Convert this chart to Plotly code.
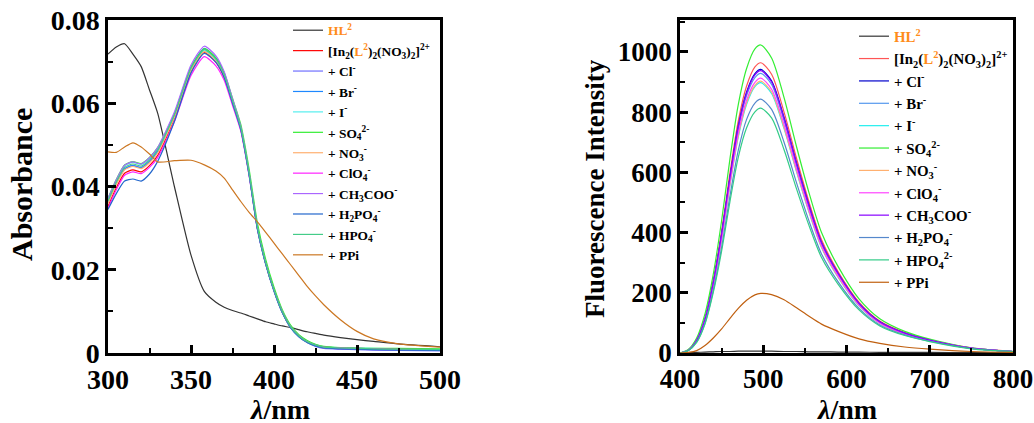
import plotly.graph_objects as go

# ---------------- data: absorbance (left) ----------------
abs_wl = [300, 305, 310, 315, 320, 325, 330, 340, 350, 358, 365, 370, 375, 380, 385,
          390, 395, 400, 405, 410, 415, 420, 425, 430, 440, 450, 460, 475, 500]

abs_HL2 = [.0718, .0735, .0743, .0718, .0688, .0632, .0575, .0400, .0235, .0148, .0122, .0110,
           .0102, .0096, .0089, .0082, .0075, .0070, .0065, .0061, .0056, .0051, .0047, .0043,
           .0037, .0032, .0028, .0022, .0015]
abs_In = [.0352, .0397, .0432, .0440, .0435, .0450, .0475, .0564, .0677, .0722, .0699, .0662, .0602,
          .0538, .0430, .0300, .0215, .0150, .0098, .0062, .0040, .0026, .0018, .0014, .0012, .0011,
          .0010, .0009, .0008]
abs_Cl = [.0363, .0408, .0443, .0451, .0446, .0461, .0486, .0574, .0687, .0732, .0709, .0672, .0607,
          .0541, .0431, .0301, .0216, .0151, .0098, .0061, .0039, .0025, .0016, .0011, .0009, .0008,
          .0007, .0006, .0005]
abs_Br = [.0362, .0407, .0442, .0450, .0445, .0460, .0485, .0572, .0685, .0730, .0707, .0670, .0606,
          .0540, .0430, .0299, .0214, .0149, .0097, .0061, .0040, .0026, .0018, .0013, .0011, .0010,
          .0010, .0009, .0008]
abs_I = [.0370, .0415, .0450, .0458, .0453, .0467, .0490, .0572, .0681, .0726, .0703, .0666, .0604,
         .0540, .0431, .0302, .0217, .0152, .0100, .0064, .0042, .0028, .0020, .0015, .0013, .0012,
         .0011, .0010, .0009]
abs_SO4 = [.0372, .0417, .0452, .0460, .0455, .0470, .0494, .0575, .0686, .0731, .0709, .0673, .0612,
           .0549, .0442, .0312, .0225, .0158, .0104, .0067, .0044, .0030, .0021, .0016, .0013, .0012,
           .0011, .0011, .0010]
abs_NO3 = [.0360, .0405, .0440, .0448, .0443, .0457, .0481, .0566, .0679, .0724, .0701, .0665, .0603,
           .0539, .0430, .0300, .0215, .0150, .0098, .0062, .0040, .0026, .0018, .0013, .0011, .0010,
           .0009, .0008, .0007]
abs_ClO4 = [.0348, .0392, .0427, .0435, .0431, .0446, .0470, .0556, .0667, .0712, .0690, .0655, .0595,
            .0533, .0426, .0298, .0214, .0150, .0099, .0063, .0041, .0027, .0019, .0014, .0012, .0011,
            .0010, .0009, .0008]
abs_OAc = [.0371, .0416, .0451, .0459, .0454, .0469, .0494, .0579, .0692, .0737, .0714, .0676, .0611,
           .0544, .0433, .0302, .0216, .0150, .0098, .0062, .0040, .0026, .0017, .0012, .0010, .0009,
           .0008, .0007, .0006]
abs_H2PO4 = [.0345, .0383, .0413, .0418, .0413, .0430, .0461, .0556, .0673, .0720, .0698, .0662, .0600,
             .0536, .0427, .0297, .0213, .0149, .0097, .0061, .0039, .0025, .0017, .0012, .0010, .0009,
             .0008, .0007, .0006]
abs_HPO4 = [.0366, .0411, .0446, .0454, .0449, .0464, .0489, .0571, .0684, .0729, .0706, .0669, .0606,
            .0541, .0432, .0302, .0216, .0151, .0099, .0063, .0041, .0027, .0019, .0014, .0012, .0011,
            .0010, .0009, .0008]
abs_PPi = [.0483, .0482, .0495, .0505, .0495, .0478, .0459, .0462, .0463, .0452, .0437, .0420, .0392,
           .0364, .0338, .0315, .0290, .0264, .0238, .0212, .0186, .0160, .0137, .0116, .0080, .0052,
           .0034, .0022, .0014]

# ---------------- data: fluorescence (right) ----------------
fl_wl = [400, 410, 420, 430, 440, 450, 460, 470, 480, 490, 497, 510, 525, 540, 555, 570,
         590, 615, 640, 670, 700, 750, 800]

fl_HL2 = [0, 1, 2, 3, 4, 5, 5, 6, 6, 6, 6, 6, 5, 5, 4, 4, 3, 3, 2, 2, 2, 1, 1]
fl_In = [0, 10, 43, 116, 241, 405, 598, 771, 887, 950, 964, 926, 800, 646, 501, 376, 270, 169, 106, 68, 44, 17, 5]
fl_Cl = [0, 9, 42, 113, 235, 396, 584, 754, 867, 928, 942, 904, 782, 631, 490, 367, 264, 165, 104, 66, 43, 16, 5]
fl_Br = [0, 9, 41, 111, 232, 390, 576, 743, 855, 915, 929, 892, 771, 622, 483, 362, 260, 163, 102, 65, 42, 16, 5]
fl_I = [0, 9, 40, 108, 224, 377, 557, 718, 826, 885, 898, 862, 745, 602, 467, 350, 251, 157, 99, 63, 41, 15, 5]
fl_SO4 = [0, 12, 50, 130, 262, 440, 645, 825, 945, 1010, 1023, 980, 848, 685, 532, 400, 287, 180, 114, 72, 46, 17, 5]
fl_NO3 = [0, 9, 40, 108, 226, 379, 560, 722, 831, 889, 903, 867, 749, 605, 470, 352, 253, 158, 99, 63, 41, 15, 5]
fl_ClO4 = [0, 9, 41, 110, 228, 383, 566, 730, 840, 899, 913, 876, 758, 612, 475, 356, 256, 160, 100, 64, 42, 16, 5]
fl_OAc = [0, 9, 42, 112, 234, 394, 582, 750, 863, 924, 938, 900, 779, 628, 488, 366, 263, 164, 103, 66, 43, 16, 5]
fl_H2PO4 = [0, 8, 36, 99, 208, 351, 521, 673, 776, 830, 843, 809, 700, 565, 438, 329, 236, 148, 93, 60, 39, 15, 5]
fl_HPO4 = [0, 8, 35, 96, 201, 339, 503, 650, 748, 801, 813, 781, 675, 545, 423, 317, 228, 143, 90, 58, 38, 14, 5]
fl_PPi = [0, 2, 8, 25, 50, 80, 115, 148, 175, 193, 198, 194, 177, 150, 122, 96, 72, 47, 32, 20, 13, 5, 2]

# ---------------- labels ----------------
ORANGE = "#ff8c1a"
lab_HL2 = f"<span style='color:{ORANGE}'>HL<sup>2</sup></span>"
lab_In = (f"[In<sub>2</sub>(<span style='color:{ORANGE}'>L<sup>2</sup></span>)<sub>2</sub>"
          "(NO<sub>3</sub>)<sub>2</sub>]<sup>2+</sup>")
left_labels = [lab_HL2, lab_In, "+ Cl<sup>-</sup>", "+ Br<sup>-</sup>", "+ I<sup>-</sup>",
               "+ SO<sub>4</sub><sup>2-</sup>", "+ NO<sub>3</sub><sup>-</sup>",
               "+ ClO<sub>4</sub><sup>-</sup>", "+ CH<sub>3</sub>COO<sup>-</sup>",
               "+ H<sub>2</sub>PO<sub>4</sub><sup>-</sup>", "+ HPO<sub>4</sub><sup>-</sup>", "+ PPi"]
right_labels = left_labels[:10] + ["+ HPO<sub>4</sub><sup>2-</sup>", "+ PPi"]

left_series = [abs_HL2, abs_In, abs_Cl, abs_Br, abs_I, abs_SO4, abs_NO3, abs_ClO4,
               abs_OAc, abs_H2PO4, abs_HPO4, abs_PPi]
right_series = [fl_HL2, fl_In, fl_Cl, fl_Br, fl_I, fl_SO4, fl_NO3, fl_ClO4,
                fl_OAc, fl_H2PO4, fl_HPO4, fl_PPi]

left_colors = ["#333333", "#ff0000", "#7070ff", "#1e88ff", "#55eeee", "#33ee33", "#ffb070",
               "#ff22ff", "#aa66ff", "#2266cc", "#44cc88", "#cc7722"]
right_colors = ["#333333", "#ff5555", "#0000cc", "#5599ee", "#22eeee", "#33ee33", "#ffb070",
                "#ff44ff", "#8800ff", "#5588cc", "#33cc88", "#c06010"]

FONT = "Times New Roman, Liberation Serif, serif"

fig = go.Figure()
for lab, ys, col in zip(left_labels, left_series, left_colors):
    fig.add_trace(go.Scatter(x=abs_wl, y=ys, mode="lines", name=lab,
                             line=dict(color=col, width=1.2, shape="spline", smoothing=0.6),
                             xaxis="x", yaxis="y", legend="legend"))
for lab, ys, col in zip(right_labels, right_series, right_colors):
    fig.add_trace(go.Scatter(x=fl_wl, y=ys, mode="lines", name=lab,
                             line=dict(color=col, width=1.2, shape="spline", smoothing=0.8),
                             xaxis="x2", yaxis="y2", legend="legend2"))


def axstyle(size):
    return dict(showline=True, linewidth=2.5, linecolor="black", mirror=True,
                ticks="inside", ticklen=8, tickwidth=2.5, tickcolor="black", automargin=False,
                showgrid=False, zeroline=False, ticklabelstandoff=0,
                tickfont=dict(family=FONT, size=size, color="black", weight="bold"))


def minor(vals):
    return dict(tickvals=vals, ticks="inside", ticklen=5, tickwidth=2, tickcolor="black")


W, H = 1034, 423
yd = [70 / H, 403 / H]
fig.update_layout(
    width=W, height=H, margin=dict(l=0, r=0, t=0, b=0, autoexpand=False),
    paper_bgcolor="white", plot_bgcolor="white",
    xaxis=dict(domain=[108 / W, 440 / W], range=[300, 500],
               tickvals=[300, 350, 400, 450, 500], minor=minor([325, 375, 425, 475]),
               anchor="y", **axstyle(28)),
    yaxis=dict(domain=yd, range=[0, 0.08], tickvals=[0, 0.02, 0.04, 0.06, 0.08],
               ticktext=["0", "0.02", "0.04", "0.06", "0.08"],
               minor=minor([0.01, 0.03, 0.05, 0.07]), anchor="x", **axstyle(28)),
    xaxis2=dict(domain=[680 / W, 1013 / W], range=[400, 800],
                tickvals=[400, 500, 600, 700, 800], minor=minor([450, 550, 650, 750]),
                anchor="y2", **axstyle(27)),
    yaxis2=dict(domain=yd, range=[0, 1106], tickvals=[0, 200, 400, 600, 800, 1000],
                minor=minor([100, 300, 500, 700, 900, 1100]), anchor="x2", **axstyle(27)),
    legend=dict(x=288 / W, y=(H - 15) / H, xanchor="left", yanchor="top",
                bgcolor="rgba(0,0,0,0)", borderwidth=0, tracegroupgap=0,
                font=dict(family=FONT, size=13.4, color="black", weight="bold")),
    legend2=dict(x=854 / W, y=(H - 20) / H, xanchor="left", yanchor="top",
                 bgcolor="rgba(0,0,0,0)", borderwidth=0, tracegroupgap=0,
                 font=dict(family=FONT, size=14.9, color="black", weight="bold")),
    annotations=[
        dict(text="Absorbance", x=22 / W, y=(H - 185) / H, xref="paper", yref="paper",
             textangle=-90, showarrow=False, xanchor="center", yanchor="middle",
             font=dict(family=FONT, size=30, color="black", weight="bold")),
        dict(text="Fluorescence Intensity", x=595 / W, y=(H - 189) / H, xref="paper",
             yref="paper", textangle=-90, showarrow=False, xanchor="center", yanchor="middle",
             font=dict(family=FONT, size=27, color="black", weight="bold")),
        dict(text="<i>λ</i>/nm", x=280 / W, y=(H - 409) / H, xref="paper", yref="paper",
             showarrow=False, xanchor="center", yanchor="middle",
             font=dict(family=FONT, size=28, color="black", weight="bold")),
        dict(text="<i>λ</i>/nm", x=847 / W, y=(H - 409) / H, xref="paper", yref="paper",
             showarrow=False, xanchor="center", yanchor="middle",
             font=dict(family=FONT, size=28, color="black", weight="bold")),
    ],
)

fig.write_html("out.html", config={"displayModeBar": False},
               post_script="document.body.style.margin='0';document.body.style.padding='0';")
